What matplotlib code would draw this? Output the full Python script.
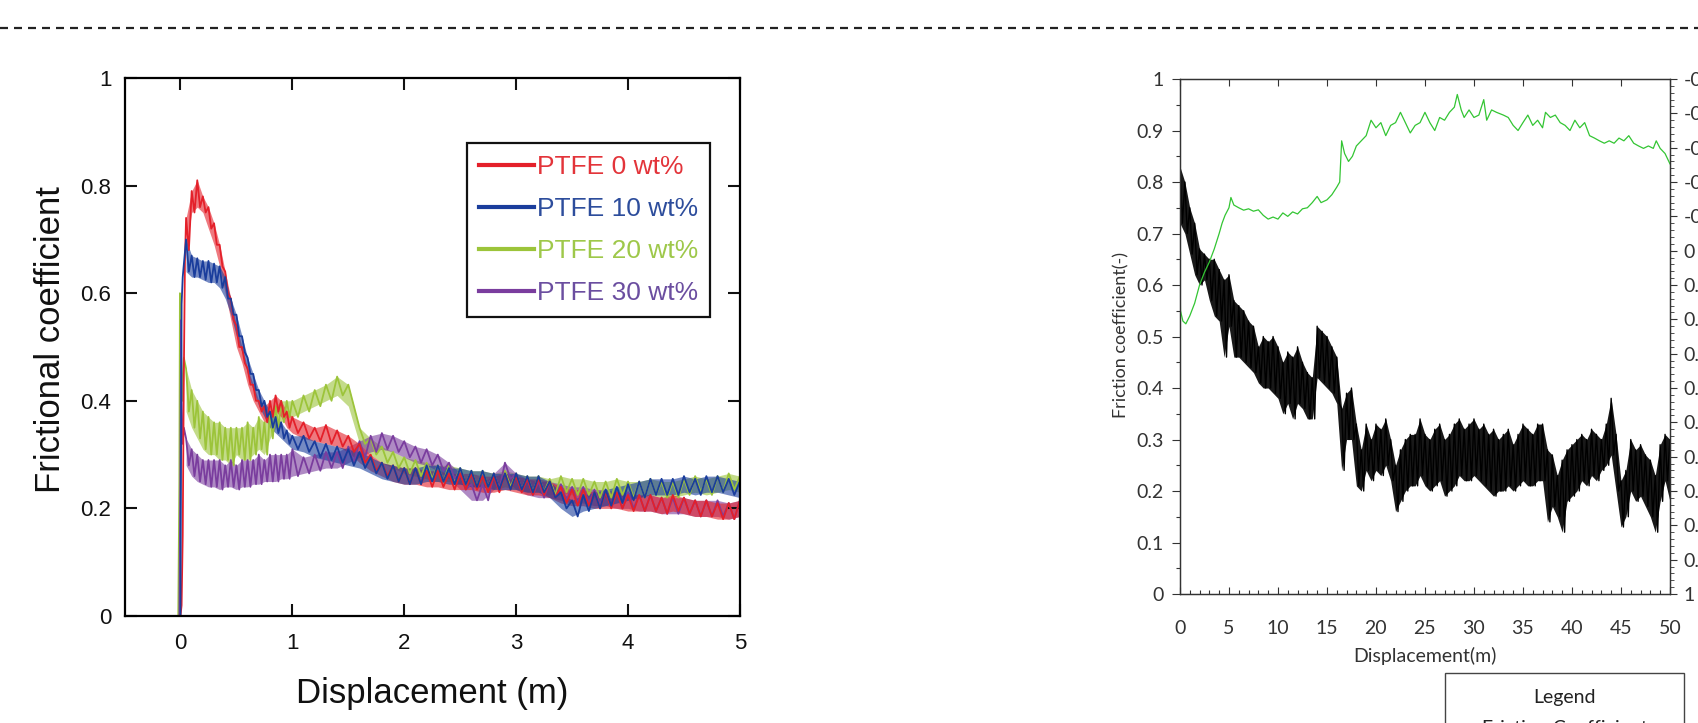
import matplotlib
matplotlib.use("Agg")
import matplotlib.pyplot as plt
import numpy as np
from matplotlib.lines import Line2D
from matplotlib.patches import Rectangle
from matplotlib.ticker import FixedLocator, MultipleLocator, FuncFormatter

plt.rcParams["font.family"] = ["Liberation Sans", "DejaVu Sans"]

# ---------------- left chart: PTFE series (envelope of the noisy band) ----------------
GRID_L = np.concatenate([np.arange(1, 21) * 0.05, 1.0 + np.arange(1, 41) * 0.1])

RED_START_X = [0.0, 0.01, 0.02, 0.03, 0.04]
RED_START_Y = [0.0, 0.02, 0.15, 0.45, 0.66]
RED_HI = [0.74, 0.79, 0.81, 0.78, 0.76, 0.73, 0.69, 0.64, 0.59, 0.54,
          0.50, 0.46, 0.43, 0.40, 0.39, 0.40, 0.41, 0.40, 0.38, 0.37,
          0.36, 0.35, 0.355, 0.345, 0.335, 0.32, 0.30, 0.285, 0.28, 0.275,
          0.275, 0.27, 0.27, 0.265, 0.265, 0.265, 0.26, 0.26, 0.265, 0.26,
          0.255, 0.255, 0.25, 0.24, 0.235, 0.235, 0.23, 0.23, 0.23, 0.225,
          0.225, 0.225, 0.22, 0.225, 0.22, 0.215, 0.215, 0.21, 0.21, 0.215]
RED_LO = [0.68, 0.75, 0.76, 0.75, 0.72, 0.69, 0.65, 0.60, 0.55, 0.50,
          0.47, 0.43, 0.40, 0.38, 0.36, 0.37, 0.38, 0.37, 0.35, 0.34,
          0.33, 0.325, 0.32, 0.315, 0.305, 0.285, 0.27, 0.26, 0.25, 0.245,
          0.245, 0.24, 0.24, 0.235, 0.235, 0.235, 0.23, 0.23, 0.235, 0.23,
          0.225, 0.225, 0.22, 0.21, 0.205, 0.205, 0.20, 0.20, 0.20, 0.195,
          0.195, 0.195, 0.19, 0.195, 0.19, 0.185, 0.185, 0.18, 0.18, 0.185]

BLUE_START_X = [-0.01, 0.0, 0.005, 0.01, 0.02]
BLUE_START_Y = [0.0, 0.0, 0.3, 0.58, 0.63]
BLUE_HI = [0.70, 0.67, 0.665, 0.66, 0.66, 0.655, 0.65, 0.63, 0.59, 0.56,
           0.52, 0.48, 0.45, 0.42, 0.40, 0.38, 0.37, 0.36, 0.345, 0.335,
           0.335, 0.325, 0.32, 0.315, 0.31, 0.305, 0.295, 0.285, 0.28, 0.275,
           0.275, 0.28, 0.28, 0.275, 0.275, 0.27, 0.27, 0.265, 0.265, 0.265,
           0.26, 0.26, 0.25, 0.23, 0.215, 0.225, 0.23, 0.235, 0.24, 0.245,
           0.25, 0.255, 0.255, 0.255, 0.26, 0.255, 0.26, 0.26, 0.255, 0.25]
BLUE_LO = [0.64, 0.63, 0.63, 0.625, 0.62, 0.62, 0.61, 0.59, 0.56, 0.52,
           0.49, 0.45, 0.42, 0.39, 0.37, 0.35, 0.34, 0.33, 0.32, 0.31,
           0.305, 0.295, 0.29, 0.285, 0.28, 0.275, 0.265, 0.255, 0.25, 0.245,
           0.245, 0.25, 0.25, 0.245, 0.245, 0.24, 0.24, 0.235, 0.235, 0.235,
           0.23, 0.23, 0.22, 0.20, 0.185, 0.195, 0.20, 0.205, 0.21, 0.215,
           0.22, 0.225, 0.225, 0.225, 0.23, 0.225, 0.23, 0.23, 0.225, 0.22]

GREEN_START_X = [-0.02, -0.01, -0.005, 0.0, 0.01, 0.02, 0.03]
GREEN_START_Y = [0.0, 0.25, 0.6, 0.52, 0.45, 0.40, 0.48]
GREEN_HI = [0.46, 0.42, 0.40, 0.38, 0.37, 0.36, 0.36, 0.35, 0.35, 0.35,
            0.35, 0.36, 0.35, 0.37, 0.36, 0.38, 0.39, 0.40, 0.40, 0.40,
            0.41, 0.42, 0.43, 0.445, 0.43, 0.35, 0.33, 0.315, 0.305, 0.295,
            0.29, 0.285, 0.28, 0.28, 0.275, 0.27, 0.27, 0.265, 0.27, 0.265,
            0.26, 0.26, 0.255, 0.26, 0.255, 0.255, 0.25, 0.25, 0.255, 0.25,
            0.25, 0.255, 0.25, 0.25, 0.255, 0.26, 0.255, 0.26, 0.265, 0.26]
GREEN_LO = [0.38, 0.35, 0.33, 0.31, 0.30, 0.30, 0.29, 0.29, 0.28, 0.30,
            0.29, 0.29, 0.30, 0.31, 0.30, 0.33, 0.35, 0.36, 0.37, 0.37,
            0.38, 0.39, 0.40, 0.41, 0.39, 0.32, 0.30, 0.285, 0.275, 0.265,
            0.26, 0.255, 0.25, 0.25, 0.245, 0.24, 0.24, 0.235, 0.24, 0.235,
            0.23, 0.23, 0.225, 0.23, 0.225, 0.225, 0.22, 0.22, 0.225, 0.22,
            0.22, 0.225, 0.22, 0.22, 0.225, 0.23, 0.225, 0.23, 0.235, 0.23]

PURPLE_START_X = [-0.01, 0.0, 0.005, 0.01, 0.02, 0.03]
PURPLE_START_Y = [0.0, 0.30, 0.55, 0.40, 0.32, 0.35]
PURPLE_HI = [0.33, 0.31, 0.30, 0.29, 0.29, 0.29, 0.29, 0.28, 0.29, 0.28,
             0.29, 0.29, 0.29, 0.30, 0.29, 0.30, 0.30, 0.30, 0.30, 0.31,
             0.295, 0.30, 0.305, 0.305, 0.315, 0.325, 0.335, 0.34, 0.335, 0.325,
             0.315, 0.31, 0.30, 0.285, 0.265, 0.245, 0.245, 0.265, 0.285, 0.265,
             0.255, 0.25, 0.25, 0.245, 0.24, 0.24, 0.235, 0.235, 0.23, 0.23,
             0.225, 0.225, 0.22, 0.22, 0.22, 0.215, 0.215, 0.215, 0.21, 0.215]
PURPLE_LO = [0.28, 0.26, 0.25, 0.245, 0.24, 0.24, 0.235, 0.24, 0.24, 0.235,
             0.24, 0.24, 0.245, 0.245, 0.25, 0.25, 0.25, 0.255, 0.255, 0.26,
             0.265, 0.27, 0.275, 0.275, 0.285, 0.295, 0.305, 0.31, 0.305, 0.295,
             0.285, 0.28, 0.27, 0.255, 0.235, 0.215, 0.215, 0.235, 0.255, 0.235,
             0.225, 0.22, 0.22, 0.215, 0.21, 0.21, 0.205, 0.205, 0.20, 0.20,
             0.195, 0.195, 0.19, 0.19, 0.19, 0.185, 0.185, 0.185, 0.18, 0.185]

LEFT_LABELS = ["PTFE 0 wt%", "PTFE 10 wt%", "PTFE 20 wt%", "PTFE 30 wt%"]

# ---------------- right chart: friction coefficient band + green trace ----------------
GRID_R = np.arange(0, 101) * 0.5
BLACK_HI = [0.83, 0.80, 0.75, 0.72, 0.67, 0.66, 0.65, 0.65, 0.63, 0.61,
            0.62, 0.57, 0.56, 0.55, 0.53, 0.52, 0.48, 0.50, 0.49, 0.50,
            0.48, 0.45, 0.47, 0.46, 0.48, 0.45, 0.43, 0.42, 0.52, 0.51,
            0.50, 0.48, 0.46, 0.36, 0.39, 0.40, 0.33, 0.28, 0.33, 0.30,
            0.33, 0.32, 0.34, 0.30, 0.25, 0.28, 0.30, 0.31, 0.31, 0.34,
            0.31, 0.30, 0.32, 0.33, 0.30, 0.31, 0.33, 0.34, 0.32, 0.33,
            0.34, 0.32, 0.33, 0.31, 0.32, 0.30, 0.31, 0.32, 0.29, 0.31,
            0.33, 0.32, 0.31, 0.33, 0.33, 0.28, 0.27, 0.23, 0.26, 0.28,
            0.29, 0.30, 0.31, 0.30, 0.32, 0.31, 0.30, 0.33, 0.38, 0.31,
            0.22, 0.24, 0.30, 0.28, 0.29, 0.27, 0.26, 0.23, 0.29, 0.31,
            0.30]
BLACK_LO = [0.72, 0.70, 0.66, 0.62, 0.60, 0.61, 0.57, 0.54, 0.53, 0.46,
            0.52, 0.46, 0.46, 0.45, 0.44, 0.43, 0.41, 0.40, 0.40, 0.39,
            0.38, 0.35, 0.37, 0.34, 0.37, 0.36, 0.34, 0.34, 0.42, 0.41,
            0.40, 0.39, 0.37, 0.24, 0.30, 0.30, 0.21, 0.20, 0.24, 0.22,
            0.24, 0.23, 0.25, 0.22, 0.16, 0.18, 0.20, 0.21, 0.21, 0.23,
            0.21, 0.20, 0.21, 0.22, 0.19, 0.20, 0.21, 0.23, 0.22, 0.22,
            0.23, 0.22, 0.21, 0.20, 0.19, 0.20, 0.20, 0.21, 0.20, 0.21,
            0.22, 0.21, 0.21, 0.22, 0.22, 0.14, 0.17, 0.15, 0.12, 0.18,
            0.19, 0.20, 0.22, 0.21, 0.23, 0.22, 0.24, 0.25, 0.27, 0.20,
            0.13, 0.15, 0.20, 0.18, 0.19, 0.17, 0.15, 0.12, 0.18, 0.22,
            0.18]

# green trace, read against the inverted secondary axis (-0.5 top .. 1 bottom)
GREEN_X = [0, 0.05, 0.3, 0.6, 1.0, 1.5, 2.0, 2.5, 3.0, 3.5, 4.0, 4.3, 4.6, 5.0, 5.2,
           5.5, 6.0, 6.5, 7.0, 7.5, 8.0, 8.5, 9.0, 9.5, 10.0, 10.5, 11.0, 11.5, 12.0,
           12.5, 13.0, 13.5, 14.0, 14.4, 15.0, 15.5, 16.0, 16.3, 16.5, 16.8, 17.2,
           17.6, 18.0, 18.5, 19.0, 19.5, 20.0, 20.5, 21.0, 21.5, 22.0, 22.5, 23.0,
           23.5, 24.0, 24.5, 25.0, 25.5, 26.0, 26.5, 27.0, 27.5, 28.0, 28.3, 28.7,
           29.0, 29.5, 30.0, 30.5, 31.0, 31.3, 31.8, 32.3, 33.0, 33.5, 34.0, 34.5,
           35.0, 35.5, 36.0, 36.5, 37.0, 37.3, 37.8, 38.3, 38.8, 39.3, 39.8, 40.3,
           40.8, 41.3, 41.8, 42.3, 42.8, 43.3, 43.8, 44.3, 44.8, 45.3, 45.8, 46.3,
           46.8, 47.3, 47.8, 48.3, 48.6, 49.0, 49.5, 50.0]
GREEN_R = [-0.005, 0.175, 0.205, 0.213, 0.19, 0.153, 0.10, 0.063, 0.033, -0.005,
           -0.05, -0.08, -0.103, -0.125, -0.155, -0.133, -0.125, -0.118, -0.122,
           -0.115, -0.119, -0.103, -0.092, -0.098, -0.092, -0.11, -0.10, -0.113,
           -0.107, -0.122, -0.125, -0.14, -0.158, -0.14, -0.148, -0.163, -0.185,
           -0.20, -0.32, -0.283, -0.26, -0.275, -0.305, -0.32, -0.335, -0.38,
           -0.358, -0.373, -0.335, -0.365, -0.373, -0.403, -0.373, -0.343, -0.365,
           -0.373, -0.403, -0.373, -0.35, -0.388, -0.38, -0.403, -0.418, -0.455,
           -0.41, -0.388, -0.41, -0.388, -0.395, -0.44, -0.38, -0.41, -0.403,
           -0.395, -0.388, -0.365, -0.35, -0.373, -0.395, -0.365, -0.38, -0.358,
           -0.403, -0.388, -0.395, -0.373, -0.365, -0.35, -0.38, -0.358, -0.373,
           -0.335, -0.328, -0.32, -0.313, -0.32, -0.313, -0.328, -0.32, -0.335,
           -0.313, -0.305, -0.298, -0.305, -0.298, -0.32, -0.298, -0.283, -0.253]


def zigzag(start_x, start_y, grid, hi, lo):
    """alternate the upper and lower envelope to draw a noisy band as one line"""
    grid = np.asarray(grid, dtype=float)
    step = np.diff(grid, append=grid[-1] + (grid[-1] - grid[-2]))
    xs = np.empty(2 * len(grid))
    ys = np.empty(2 * len(grid))
    xs[0::2] = grid
    xs[1::2] = grid + step / 2
    ys[0::2] = hi
    ys[1::2] = lo
    return np.concatenate([start_x, xs]), np.concatenate([start_y, ys])


fig = plt.figure(figsize=(16.99, 7.23), dpi=100)

# dashed separator at the top
fig.add_artist(Line2D([0, 1], [0.9613, 0.9613], transform=fig.transFigure,
                      color="#222222", lw=1.6, linestyle=(0, (3.6, 2.7))))

# ---------------- left axes ----------------
ax = fig.add_axes([0.0733, 0.148, 0.3622, 0.7441])
series = [
    ("#9cc43a", GREEN_START_X, GREEN_START_Y, GREEN_HI, GREEN_LO, 2),
    ("#7a3d9e", PURPLE_START_X, PURPLE_START_Y, PURPLE_HI, PURPLE_LO, 3),
    ("#e4202a", RED_START_X, RED_START_Y, RED_HI, RED_LO, 0),
    ("#1a3d9c", BLUE_START_X, BLUE_START_Y, BLUE_HI, BLUE_LO, 1),
]
handles = [None] * 4
for color, sx, sy, hi, lo, idx in series:
    ax.fill_between(GRID_L, lo, hi, color=color, alpha=0.6, lw=0)
    x, y = zigzag(sx, sy, GRID_L, hi, lo)
    (ln,) = ax.plot(x, y, color=color, lw=1.3, label=LEFT_LABELS[idx])
    handles[idx] = ln

ax.set_xlim(-0.5, 5)
ax.set_ylim(0, 1)
ax.xaxis.set_major_locator(FixedLocator([0, 1, 2, 3, 4, 5]))
ax.yaxis.set_major_locator(FixedLocator([0, 0.2, 0.4, 0.6, 0.8, 1]))
ax.xaxis.set_major_formatter(FuncFormatter(lambda v, p: f"{v:g}"))
ax.yaxis.set_major_formatter(FuncFormatter(lambda v, p: f"{v:g}"))
ax.tick_params(axis="both", direction="in", length=8.5, width=1.5,
               top=True, right=True, labelsize=16, colors="#111111")
ax.tick_params(axis="x", pad=12.5)
ax.tick_params(axis="y", pad=9.5)
for s in ax.spines.values():
    s.set_linewidth(1.6)
ax.set_xlabel("Displacement (m)", fontsize=25, va="center", color="#111111")
ax.xaxis.set_label_coords(0.5, -0.1433)
ax.set_ylabel("Frictional coefficient", fontsize=25, va="center", color="#111111")
ax.yaxis.set_label_coords(-0.1196, 0.5135)

leg = ax.legend(handles=handles, loc="upper left", bbox_to_anchor=(0.556, 0.879),
                fontsize=19, handlelength=2.1, handletextpad=0.12, labelspacing=0.68,
                borderpad=0.45, borderaxespad=0, fancybox=False, frameon=True,
                edgecolor="#111111", framealpha=1)
leg.get_frame().set_linewidth(1.6)
text_colors = ["#e3343a", "#2d4d9c", "#9ec84a", "#6b4ea0"]
for t, c in zip(leg.get_texts(), text_colors):
    t.set_color(c)
for h in leg.legend_handles:
    h.set_linewidth(3)

# ---------------- right axes ----------------
rfont = ["Lato", "DejaVu Sans"]
axr = fig.add_axes([0.6945, 0.1784, 0.2884, 0.7123])
axr.fill_between(GRID_R, BLACK_LO, BLACK_HI, color="black", alpha=0.9, lw=0)
xb, yb = zigzag([], [], GRID_R, BLACK_HI, BLACK_LO)
axr.plot(xb, yb, color="black", lw=1.0)
axr.set_xlim(0, 50)
axr.set_ylim(0, 1)
axr.xaxis.set_major_locator(MultipleLocator(5))
axr.xaxis.set_minor_locator(MultipleLocator(1))
axr.yaxis.set_major_locator(MultipleLocator(0.1))
axr.yaxis.set_minor_locator(MultipleLocator(0.05))
axr.xaxis.set_major_formatter(FuncFormatter(lambda v, p: f"{round(v) :d}"))
axr.yaxis.set_major_formatter(FuncFormatter(lambda v, p: f"{round(v, 1) + 0.0:g}"))
axr.tick_params(axis="x", which="major", direction="in", length=5, width=0.8,
                top=True, pad=19, labelsize=14, colors="#333333")
axr.tick_params(axis="x", which="minor", direction="in", length=3, width=0.8,
                top=False, colors="#333333")
axr.tick_params(axis="y", which="major", direction="out", length=6, width=0.8,
                pad=6, labelsize=14, colors="#333333")
axr.tick_params(axis="y", which="minor", direction="out", length=3, width=0.8,
                colors="#333333")
for lab in axr.get_xticklabels() + axr.get_yticklabels():
    lab.set_family(rfont)
for s in axr.spines.values():
    s.set_linewidth(0.9)
    s.set_color("#333333")
axr.set_xlabel("Displacement(m)", fontsize=14, family=rfont, va="center", color="#333333")
axr.xaxis.set_label_coords(0.5, -0.12)
axr.set_ylabel("Friction coefficient(-)", fontsize=13, family=rfont, va="center",
               color="#333333")
axr.yaxis.set_label_coords(-0.12, 0.503)

ax2 = axr.twinx()
ax2.plot(GREEN_X, GREEN_R, color="#33c533", lw=0.9)
ax2.set_ylim(1, -0.5)
ax2.yaxis.set_major_locator(MultipleLocator(0.1))
ax2.yaxis.set_minor_locator(MultipleLocator(0.02))
ax2.yaxis.set_major_formatter(FuncFormatter(lambda v, p: f"{round(v, 1) + 0.0:g}"))
ax2.tick_params(axis="y", which="major", direction="out", length=5, width=0.8,
                pad=5, labelsize=14, colors="#333333")
ax2.tick_params(axis="y", which="minor", direction="out", length=3, width=0.6,
                colors="#333333")
for lab in ax2.get_yticklabels():
    lab.set_family(rfont)
for s in ax2.spines.values():
    s.set_linewidth(0.9)
    s.set_color("#333333")

# legend box below the right chart (cut by the figure edge)
fig.add_artist(Rectangle((0.8505, -0.1), 0.1407, 1.1 - 673 / 723, transform=fig.transFigure,
                         facecolor="white", edgecolor="#444444", lw=1.0, clip_on=False))
fig.text(0.9211, 1 - 697 / 723, "Legend", ha="center", va="center", fontsize=14,
         family=rfont, color="#222222")
fig.text(0.9211, 1 - 729 / 723, "Friction Coefficient", ha="center", va="center",
         fontsize=14, family=rfont, color="#222222")

fig.savefig("out.png", dpi=100)
